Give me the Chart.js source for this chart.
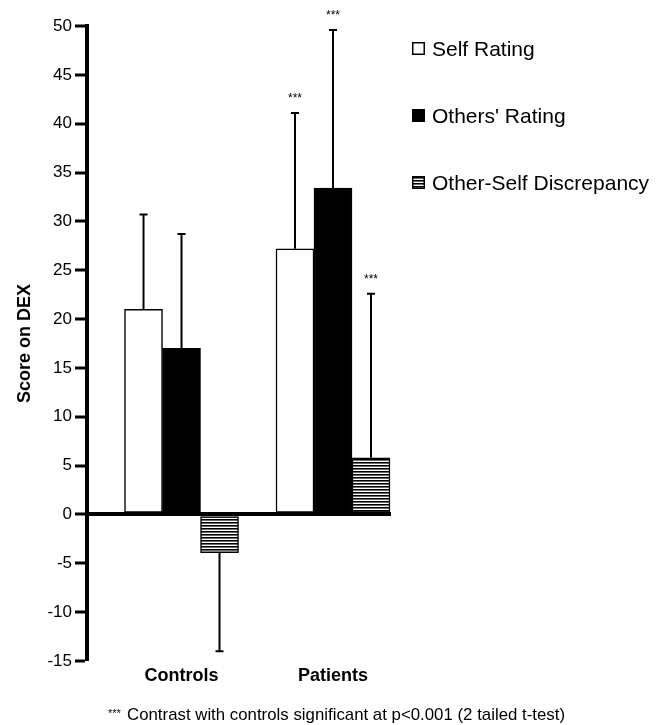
<!DOCTYPE html>
<html>
<head>
<meta charset="utf-8">
<script src="https://cdn.jsdelivr.net/npm/chart.js@4"></script>
<style>
  html, body { margin: 0; padding: 0; background: #fff; }
  #wrap { width: 662px; height: 725px; }
</style>
</head>
<body>
<div id="wrap"><canvas id="chart" width="662" height="725"></canvas></div>
<script>
// Values
const categories = ["Controls", "Patients"];
const seriesNames = ["Self Rating", "Others' Rating", "Other-Self Discrepancy"];

const selfRating = [21.0, 27.2];
const othersRating = [17.0, 33.4];
const discrepancy = [-3.9, 5.8];

// where each one-sided error bar ends
const selfErrorEnd = [30.7, 41.1];
const othersErrorEnd = [28.7, 49.6];
const discrepancyErrorEnd = [-14.0, 22.6];

// *** marks (p<0.001 vs controls)
const selfStars = [false, true];
const othersStars = [false, true];
const discrepancyStars = [false, true];

const yTicks = { min: -15, max: 50, step: 5 };
const footnote = "Contrast with controls significant at p<0.001 (2 tailed t-test)";

const FONT = "'Liberation Sans', Arial, sans-serif";

// horizontal stripes for the discrepancy bars
function stripePattern() {
    let c = document.createElement("canvas");
    c.width = 4;
    c.height = 3;
    let g = c.getContext("2d");
    g.fillStyle = "#fff"; g.fillRect(0, 0, 4, 3);
    g.fillStyle = "#000"; g.fillRect(0, 0, 4, 1);
    g.fillStyle = "#6a6a6a"; g.fillRect(0, 1, 4, 1);
    return g.createPattern(c, "repeat");
}

function points(values) {
    return values.map((v, i) => ({ x: i + 1, y: v }));
}

const errorEnds = [selfErrorEnd, othersErrorEnd, discrepancyErrorEnd];
const stars = [selfStars, othersStars, discrepancyStars];

// error bars + stars, legend and footnote
const extras = {
    id: "extras",
    afterDatasetsDraw(chart) {
        let ctx = chart.ctx;
        let y = chart.scales.y;
        ctx.save();
        ctx.strokeStyle = "#000";
        ctx.lineWidth = 2;
        chart.data.datasets.forEach((ds, i) => {
            let meta = chart.getDatasetMeta(i);
            meta.data.forEach((bar, j) => {
                let yEnd = y.getPixelForValue(errorEnds[i][j]);
                ctx.beginPath();
                ctx.moveTo(bar.x, bar.y);
                ctx.lineTo(bar.x, yEnd);
                ctx.moveTo(bar.x - 4, yEnd);
                ctx.lineTo(bar.x + 4, yEnd);
                ctx.stroke();
                if (stars[i][j]) {
                    ctx.fillStyle = "#000";
                    ctx.font = "12px " + FONT;
                    ctx.textAlign = "center";
                    ctx.textBaseline = "alphabetic";
                    ctx.fillText("***", bar.x, yEnd - 11);
                }
            });
        });
        ctx.restore();
    },
    afterDraw(chart) {
        let ctx = chart.ctx;
        ctx.save();
        // legend
        let lx = chart.chartArea.right + 21;
        chart.data.datasets.forEach((ds, i) => {
            let base = 56 + i * 67;
            ctx.fillStyle = ds.backgroundColor;
            ctx.fillRect(lx, base - 14, 13, 13);
            ctx.strokeStyle = "#000";
            ctx.lineWidth = 1.5;
            ctx.strokeRect(lx + 0.75, base - 13.25, 11.5, 11.5);
            ctx.fillStyle = "#000";
            ctx.font = "21px " + FONT;
            ctx.textAlign = "left";
            ctx.textBaseline = "alphabetic";
            ctx.fillText(ds.label, lx + 20, base);
        });
        // footnote
        ctx.fillStyle = "#000";
        ctx.textAlign = "left";
        ctx.textBaseline = "alphabetic";
        ctx.font = "11px " + FONT;
        ctx.fillText("***", 108, 716.5);
        ctx.font = "17px " + FONT;
        ctx.fillText(footnote, 127, 720, 438);
        ctx.restore();
    }
};

let canvas = document.getElementById("chart");
let hatch = stripePattern();

new Chart(canvas.getContext("2d"), {
    type: "bar",
    data: {
        datasets: [
            {
                label: seriesNames[0],
                data: points(selfRating),
                backgroundColor: "#ffffff",
                borderColor: "#000",
                borderWidth: 1.5,
                borderSkipped: false
            },
            {
                label: seriesNames[1],
                data: points(othersRating),
                backgroundColor: "#000000",
                borderColor: "#000",
                borderWidth: 1.5,
                borderSkipped: false
            },
            {
                label: seriesNames[2],
                data: points(discrepancy),
                backgroundColor: hatch,
                borderColor: "#000",
                borderWidth: 1.5,
                borderSkipped: false
            }
        ]
    },
    options: {
        responsive: false,
        animation: false,
        barThickness: 38,
        layout: { padding: { left: 0, right: 271, top: 26, bottom: 0 } },
        plugins: {
            legend: { display: false },
            tooltip: { enabled: false }
        },
        scales: {
            x: {
                type: "linear",
                min: 0.376,
                max: 2.383,
                offset: false,
                border: { display: false },
                grid: { display: false, drawTicks: false },
                afterBuildTicks: (scale) => {
                    scale.ticks = categories.map((c, i) => ({ value: i + 1 }));
                },
                afterFit: (scale) => { scale.height = 64; },
                ticks: {
                    padding: 4,
                    color: "#000",
                    font: { family: FONT, size: 18, weight: "bold" },
                    callback: (v) => categories[v - 1]
                }
            },
            y: {
                min: yTicks.min,
                max: yTicks.max,
                z: 1,
                afterFit: (scale) => { scale.width = 87; },
                border: { display: true, color: "#000", width: 4 },
                grid: {
                    color: (c) => (c.tick && c.tick.value === 0 ? "#000" : "rgba(0,0,0,0)"),
                    lineWidth: (c) => (c.tick && c.tick.value === 0 ? 4 : 0),
                    tickColor: "#000",
                    tickWidth: 3,
                    tickLength: 12
                },
                ticks: {
                    stepSize: yTicks.step,
                    padding: 3,
                    color: "#000",
                    font: { family: FONT, size: 17 }
                },
                title: {
                    display: true,
                    text: "Score on DEX",
                    color: "#000",
                    padding: { top: 14, bottom: 0 },
                    font: { family: FONT, size: 18, weight: "bold" }
                }
            }
        }
    },
    plugins: [extras]
});
</script>
</body>
</html>
